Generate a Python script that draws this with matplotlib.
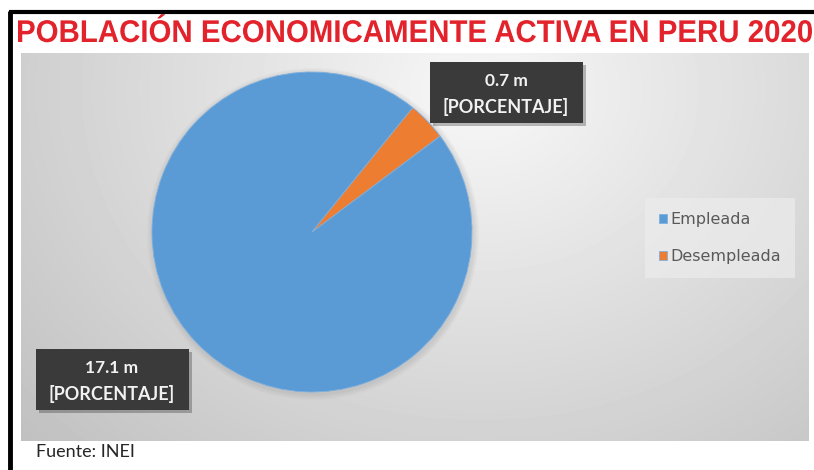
import matplotlib
matplotlib.use('Agg')
import matplotlib.pyplot as plt
import numpy as np
from matplotlib.font_manager import FontProperties
from matplotlib.patches import Circle, PathPatch, Rectangle
from matplotlib.textpath import TextPath
from matplotlib.transforms import Affine2D

titulo = "POBLACIÓN ECONOMICAMENTE ACTIVA EN PERU 2020"
categorias = ["Empleada", "Desempleada"]
millones = [17.1, 0.7]
colores = ["#5b9bd5", "#ed7d31"]
fuente = "Fuente: INEI"

W, H = 814, 470
fig = plt.figure(figsize=(W / 100, H / 100), dpi=100)

# fondo en coordenadas de pixel
bg = fig.add_axes([0, 0, 1, 1])
bg.axis('off')

# panel gris con degradado radial
x0, x1, y0, y1 = 21, 809, 53, 441
xx, yy = np.meshgrid(np.arange(x0, x1), np.arange(y0, y1))
d = np.sqrt(((xx - 480) / 520.0) ** 2 + ((yy - 90) / 430.0) ** 2)
g = np.clip(0.97 - 0.18 * d, 0, 1)
bg.imshow(g, cmap='gray', vmin=0, vmax=1, extent=[x0, x1, y1, y0],
          aspect='auto', zorder=0, interpolation='bilinear')
bg.set_xlim(0, W)
bg.set_ylim(H, 0)

# marco negro
bg.plot([10, 10], [11, H], color='black', lw=3.5, solid_capstyle='butt')
bg.plot([9, W], [12, 12], color='black', lw=3, solid_capstyle='butt')

# titulo (estrechado para que ocupe todo el ancho)
fp = FontProperties(family='Liberation Sans', weight='bold')
tp = TextPath((0, 0), titulo, size=1, prop=fp)
ext = tp.get_extents()
sx = (812 - 18) / ext.width
sy = 22.5 / 0.716
tr = Affine2D().translate(-ext.x0, 0).scale(sx, -sy).translate(18, 42) + bg.transData
bg.add_patch(PathPatch(tp, facecolor='#e3232c', edgecolor='none', transform=tr))

# sombra suave del pastel
cx, cy, r = 312, 232, 160
for k in range(6):
    bg.add_patch(Circle((cx + 1, cy + 2), r + 1 + k, facecolor='#9a9a9a',
                        edgecolor='none', alpha=0.05, zorder=1))

ax = fig.add_axes([(cx - r) / W, 1 - (cy + r) / H, 2 * r / W, 2 * r / H])
wedges, _ = ax.pie(millones, colors=colores, startangle=51, counterclock=True,
                   wedgeprops=dict(edgecolor='#7fb0de', linewidth=0.6))
ax.set_xlim(-1.0, 1.0)
ax.set_ylim(-1.0, 1.0)

# etiquetas de datos
pos_etiquetas = [(112, 379), (506, 92)]
for (bx, by), v in zip(pos_etiquetas, millones):
    bg.add_patch(Rectangle((bx - 76.5 + 3, by - 30.5 + 3), 153, 61,
                           facecolor='black', alpha=0.25, edgecolor='none', zorder=3))
    bg.add_patch(Rectangle((bx - 76.5, by - 30.5), 153, 61,
                           facecolor='#3a3a3a', edgecolor='none', zorder=4))
    bg.text(bx, by - 11, f"{v} m", ha='center', va='center', color='#f2f2f2',
            family='Lato', weight='bold', fontsize=12.5, zorder=5)
    bg.text(bx, by + 15, "[PORCENTAJE]", ha='center', va='center', color='#f2f2f2',
            family='Lato', weight='bold', fontsize=13, zorder=5)

leg = fig.legend(wedges, categorias, loc='center', bbox_to_anchor=(720 / W, 1 - 238 / H),
                 frameon=True, facecolor='#ececec', edgecolor='none', framealpha=0.7,
                 fancybox=False, prop=FontProperties(family='DejaVu Sans', size=11.5),
                 labelcolor='#595959', handlelength=0.5, handleheight=0.5,
                 handletextpad=0.2, labelspacing=1.35, borderpad=0.9)

bg.text(36, 452, fuente, ha='left', va='center', family='Lato', fontsize=13,
        color='#262626')

fig.savefig('out.png', dpi=100)
